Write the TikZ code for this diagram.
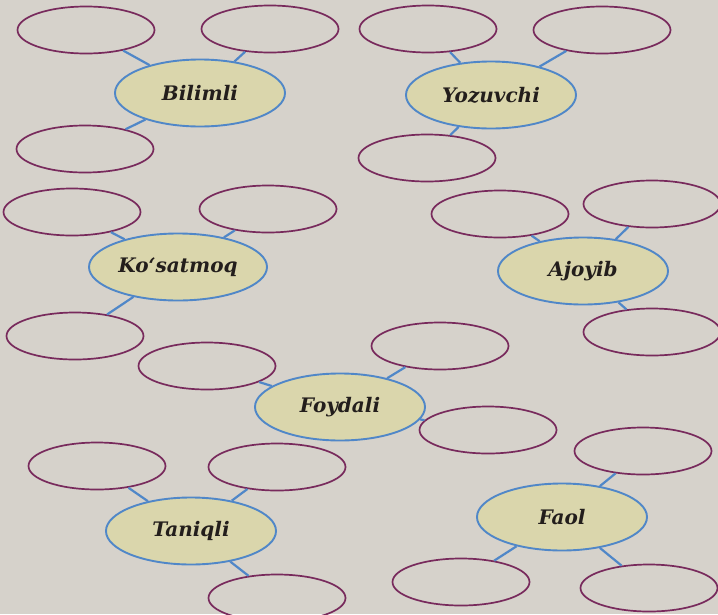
\documentclass[tikz,border=0pt]{standalone}
\usepackage{fontspec}
\usetikzlibrary{shapes.geometric}

\newfontfamily\wordfont{DejaVu Serif}

\definecolor{paper}{RGB}{214,210,203}
\definecolor{plum}{RGB}{120,42,92}
\definecolor{sky}{RGB}{80,135,200}
\definecolor{khaki}{RGB}{218,214,172}
\definecolor{ink}{RGB}{35,30,28}

\tikzset{
  word/.style={ellipse, draw=sky, fill=khaki, text=ink, line width=1.9pt, minimum width=170pt, minimum height=67pt, font=\wordfont\fontsize{20}{24}\selectfont\bfseries\itshape},
  blank/.style={ellipse, draw=plum, line width=1.7pt, minimum width=137pt, minimum height=47pt},
  link/.style={draw=sky, line width=2.2pt}
}

\begin{document}
\begin{tikzpicture}[x=1pt, y=-1pt]

% Paper
\useasboundingbox (0,0) rectangle (718,614);
\clip (0,0) rectangle (718,614);
\fill[paper] (0,0) rectangle (718,614);

% Define the central words
\node[word] (Bil) at (200,93) {Bilimli};
\node[word] (Yoz) at (491,95) {Yozuvchi};
\node[word] (Kos) at (178,267) {Ko‘satmoq};
\node[word] (Ajo) at (583,271) {Ajoyib};
\node[word] (Foy) at (340,407) {Foydali};
\node[word] (Tan) at (191,531) {Taniqli};
\node[word] (Fao) at (562,517) {Faol};

% Define the empty ellipses
\node[blank] (Bil1) at (86,30) {};
\node[blank] (Bil2) at (270,29) {};
\node[blank] (Bil3) at (85,149) {};
\node[blank] (Yoz1) at (428,29) {};
\node[blank] (Yoz2) at (602,30) {};
\node[blank] (Yoz3) at (427,158) {};
\node[blank] (Kos1) at (72,212) {};
\node[blank] (Kos2) at (268,209) {};
\node[blank] (Kos3) at (75,336) {};
\node[blank] (Ajo1) at (500,214) {};
\node[blank] (Ajo2) at (652,204) {};
\node[blank] (Ajo3) at (652,332) {};
\node[blank] (Foy1) at (207,366) {};
\node[blank] (Foy2) at (440,346) {};
\node[blank] (Foy3) at (488,430) {};
\node[blank] (Tan1) at (97,466) {};
\node[blank] (Tan2) at (277,467) {};
\node[blank] (Tan3) at (277,598) {};
\node[blank] (Fao1) at (643,451) {};
\node[blank] (Fao2) at (461,582) {};
\node[blank] (Fao3) at (649,588) {};

% Draw the links
\draw[link] (Bil) -- (Bil1);
\draw[link] (Bil) -- (Bil2);
\draw[link] (Bil) -- (Bil3);
\draw[link] (Yoz) -- (Yoz1);
\draw[link] (Yoz) -- (Yoz2);
\draw[link] (Yoz) -- (Yoz3);
\draw[link] (Kos) -- (Kos1);
\draw[link] (Kos) -- (Kos2);
\draw[link] (Kos) -- (Kos3);
\draw[link] (Ajo) -- (Ajo1);
\draw[link] (Ajo) -- (Ajo2);
\draw[link] (Ajo) -- (Ajo3);
\draw[link] (Foy) -- (Foy1);
\draw[link] (Foy) -- (Foy2);
\draw[link] (Foy) -- (Foy3);
\draw[link] (Tan) -- (Tan1);
\draw[link] (Tan) -- (Tan2);
\draw[link] (Tan) -- (Tan3);
\draw[link] (Fao) -- (Fao1);
\draw[link] (Fao) -- (Fao2);
\draw[link] (Fao) -- (Fao3);

\end{tikzpicture}
\end{document}
